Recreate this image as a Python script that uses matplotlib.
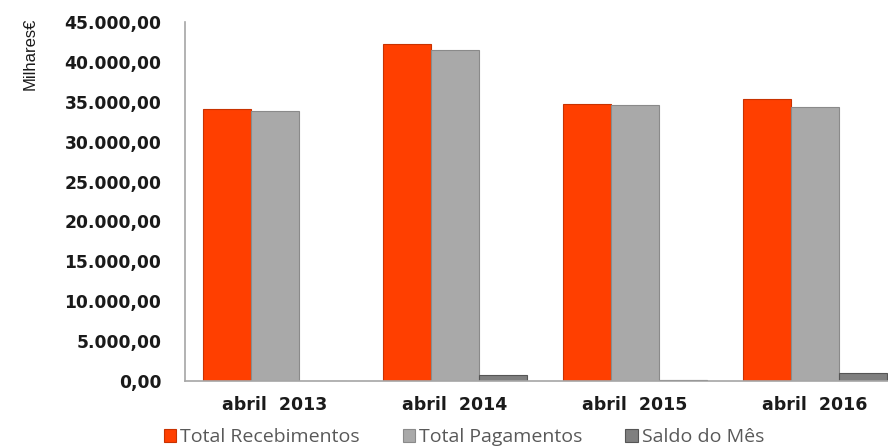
import numpy as np
import matplotlib
matplotlib.use("Agg")
import matplotlib.pyplot as plt
from matplotlib.ticker import FuncFormatter

# data (thousands of euros)
categories = ["abril  2013", "abril  2014", "abril  2015", "abril  2016"]
recebimentos = [34050, 42300, 34700, 35400]
pagamentos = [33900, 41450, 34550, 34350]
saldo = [60, 800, 80, 1050]
series_names = ["Total Recebimentos", "Total Pagamentos", "Saldo do Mês"]
yticks = [0, 5000, 10000, 15000, 20000, 25000, 30000, 35000, 40000, 45000]


def fmt_pt(v, _pos=None):
    s = f"{v:,.2f}"
    return s.replace(",", "X").replace(".", ",").replace("X", ".")


fig = plt.figure(figsize=(8.88, 4.48), dpi=100)
W, H = 888, 448
# plot area is wider than the picture: the last group is cut at the right edge
ax = fig.add_axes([185 / W, 1 - 381 / H, 720 / W, (381 - 22) / H])

x = np.arange(len(categories))
bw = 48 / 180
colors = ["#FF3F00", "#A9A9A9", "#7F7F7F"]
edges = ["#C83200", "#8A8A8A", "#555555"]
for i, (vals, name) in enumerate(zip([recebimentos, pagamentos, saldo], series_names)):
    ax.bar(x + (i - 1) * bw, vals, width=bw, color=colors[i], edgecolor=edges[i],
           linewidth=0.8, label=name, zorder=2)

ax.set_xlim(-0.5, len(categories) - 0.5)
ax.set_ylim(0, 45000)
ax.set_yticks(yticks)
ax.yaxis.set_major_formatter(FuncFormatter(fmt_pt))
ax.set_xticks(x)
ax.set_xticklabels(categories)

for sp in ["top", "right"]:
    ax.spines[sp].set_visible(False)
for sp in ["left", "bottom"]:
    ax.spines[sp].set_color("#A6A6A6")
    ax.spines[sp].set_linewidth(1.2)

ax.tick_params(axis="y", length=0, pad=17, labelsize=12.3, labelcolor="#1A1A1A")
ax.tick_params(axis="x", length=0, pad=11, labelsize=12.5, labelcolor="#1A1A1A")
for lab in ax.get_yticklabels() + ax.get_xticklabels():
    lab.set_fontweight("bold")
    lab.set_family("DejaVu Sans")

fig.text(30 / W, 1 - 54 / H, "Milhares€", rotation=90, ha="center", va="center",
         fontsize=12, family="Liberation Sans", color="#1A1A1A")

leg = fig.legend(loc="center left", bbox_to_anchor=(156 / W, 1 - 437 / H), ncol=3,
                 frameon=False, handlelength=0.65, handleheight=0.65,
                 handletextpad=0.2, columnspacing=2.2, borderaxespad=0,
                 prop={"family": "Open Sans", "size": 14})
for t in leg.get_texts():
    t.set_color("#595959")

fig.savefig("out.png", dpi=100)
